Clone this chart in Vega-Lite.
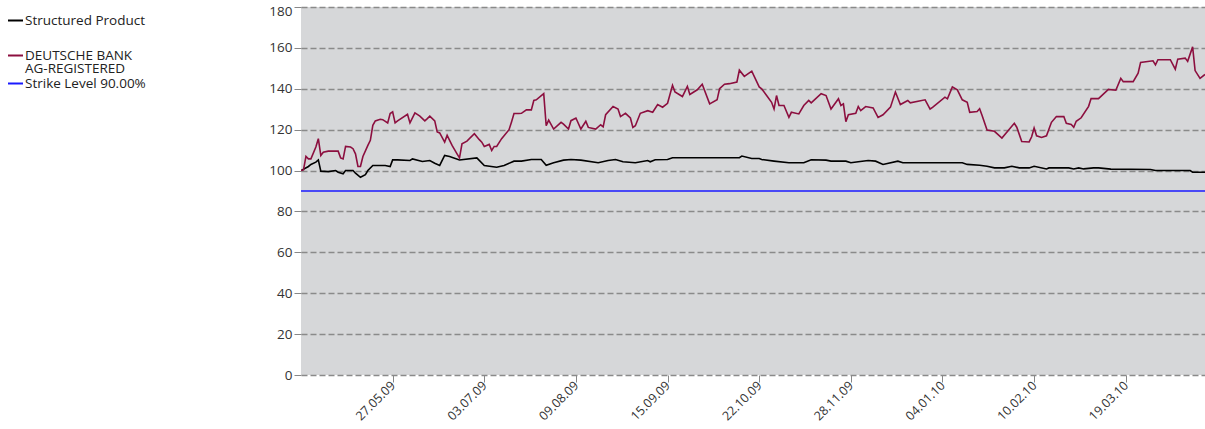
{
  "$schema": "https://vega.github.io/schema/vega-lite/v6.json",
  "width": 904,
  "height": 368,
  "autosize": {"type": "none"},
  "padding": {"left": 301, "top": 7, "right": 0, "bottom": 54},
  "background": "white",
  "config": {
    "view": {"fill": "#d6d7d9", "stroke": null},
    "font": "Open Sans"
  },
  "data": {
    "values": [
      {"date": "2009-04-20", "series": "Strike Level 90.00%", "value": 90},
      {"date": "2010-04-20", "series": "Strike Level 90.00%", "value": 90},

      {"date": "2009-04-20", "series": "Structured Product", "value": 100},
      {"date": "2009-04-23", "series": "Structured Product", "value": 102},
      {"date": "2009-04-24", "series": "Structured Product", "value": 103},
      {"date": "2009-04-26", "series": "Structured Product", "value": 104.1},
      {"date": "2009-04-27", "series": "Structured Product", "value": 105.2},
      {"date": "2009-04-28", "series": "Structured Product", "value": 99.7},
      {"date": "2009-05-01", "series": "Structured Product", "value": 99.5},
      {"date": "2009-05-04", "series": "Structured Product", "value": 100},
      {"date": "2009-05-05", "series": "Structured Product", "value": 99.2},
      {"date": "2009-05-07", "series": "Structured Product", "value": 98.4},
      {"date": "2009-05-08", "series": "Structured Product", "value": 100},
      {"date": "2009-05-11", "series": "Structured Product", "value": 100},
      {"date": "2009-05-12", "series": "Structured Product", "value": 98.7},
      {"date": "2009-05-14", "series": "Structured Product", "value": 96.7},
      {"date": "2009-05-16", "series": "Structured Product", "value": 98},
      {"date": "2009-05-17", "series": "Structured Product", "value": 100},
      {"date": "2009-05-19", "series": "Structured Product", "value": 102.5},
      {"date": "2009-05-24", "series": "Structured Product", "value": 102.5},
      {"date": "2009-05-26", "series": "Structured Product", "value": 102},
      {"date": "2009-05-27", "series": "Structured Product", "value": 105.2},
      {"date": "2009-05-29", "series": "Structured Product", "value": 105.2},
      {"date": "2009-06-03", "series": "Structured Product", "value": 104.9},
      {"date": "2009-06-04", "series": "Structured Product", "value": 105.7},
      {"date": "2009-06-08", "series": "Structured Product", "value": 104.4},
      {"date": "2009-06-11", "series": "Structured Product", "value": 104.9},
      {"date": "2009-06-13", "series": "Structured Product", "value": 103.6},
      {"date": "2009-06-15", "series": "Structured Product", "value": 102.5},
      {"date": "2009-06-17", "series": "Structured Product", "value": 107.4},
      {"date": "2009-06-19", "series": "Structured Product", "value": 106.9},
      {"date": "2009-06-23", "series": "Structured Product", "value": 105.2},
      {"date": "2009-06-30", "series": "Structured Product", "value": 106.2},
      {"date": "2009-07-03", "series": "Structured Product", "value": 102.5},
      {"date": "2009-07-08", "series": "Structured Product", "value": 101.6},
      {"date": "2009-07-11", "series": "Structured Product", "value": 102.5},
      {"date": "2009-07-15", "series": "Structured Product", "value": 104.6},
      {"date": "2009-07-18", "series": "Structured Product", "value": 104.6},
      {"date": "2009-07-22", "series": "Structured Product", "value": 105.4},
      {"date": "2009-07-26", "series": "Structured Product", "value": 105.4},
      {"date": "2009-07-28", "series": "Structured Product", "value": 102.6},
      {"date": "2009-07-31", "series": "Structured Product", "value": 103.8},
      {"date": "2009-08-04", "series": "Structured Product", "value": 105.1},
      {"date": "2009-08-07", "series": "Structured Product", "value": 105.4},
      {"date": "2009-08-11", "series": "Structured Product", "value": 105.1},
      {"date": "2009-08-18", "series": "Structured Product", "value": 103.8},
      {"date": "2009-08-22", "series": "Structured Product", "value": 104.9},
      {"date": "2009-08-25", "series": "Structured Product", "value": 105.4},
      {"date": "2009-08-28", "series": "Structured Product", "value": 104.3},
      {"date": "2009-09-02", "series": "Structured Product", "value": 103.8},
      {"date": "2009-09-07", "series": "Structured Product", "value": 104.9},
      {"date": "2009-09-08", "series": "Structured Product", "value": 104.3},
      {"date": "2009-09-10", "series": "Structured Product", "value": 105.3},
      {"date": "2009-09-15", "series": "Structured Product", "value": 105.4},
      {"date": "2009-09-17", "series": "Structured Product", "value": 106.3},
      {"date": "2009-10-14", "series": "Structured Product", "value": 106.3},
      {"date": "2009-10-15", "series": "Structured Product", "value": 107.1},
      {"date": "2009-10-19", "series": "Structured Product", "value": 105.9},
      {"date": "2009-10-22", "series": "Structured Product", "value": 105.9},
      {"date": "2009-10-23", "series": "Structured Product", "value": 105.4},
      {"date": "2009-10-28", "series": "Structured Product", "value": 104.6},
      {"date": "2009-11-03", "series": "Structured Product", "value": 103.8},
      {"date": "2009-11-09", "series": "Structured Product", "value": 103.8},
      {"date": "2009-11-12", "series": "Structured Product", "value": 105.3},
      {"date": "2009-11-18", "series": "Structured Product", "value": 105.1},
      {"date": "2009-11-20", "series": "Structured Product", "value": 104.6},
      {"date": "2009-11-26", "series": "Structured Product", "value": 104.6},
      {"date": "2009-11-28", "series": "Structured Product", "value": 103.8},
      {"date": "2009-12-01", "series": "Structured Product", "value": 104.3},
      {"date": "2009-12-05", "series": "Structured Product", "value": 104.9},
      {"date": "2009-12-08", "series": "Structured Product", "value": 104.6},
      {"date": "2009-12-11", "series": "Structured Product", "value": 103},
      {"date": "2009-12-17", "series": "Structured Product", "value": 104.6},
      {"date": "2009-12-19", "series": "Structured Product", "value": 103.8},
      {"date": "2010-01-12", "series": "Structured Product", "value": 103.8},
      {"date": "2010-01-14", "series": "Structured Product", "value": 103},
      {"date": "2010-01-19", "series": "Structured Product", "value": 102.6},
      {"date": "2010-01-22", "series": "Structured Product", "value": 102.1},
      {"date": "2010-01-25", "series": "Structured Product", "value": 101.3},
      {"date": "2010-01-29", "series": "Structured Product", "value": 101.3},
      {"date": "2010-02-01", "series": "Structured Product", "value": 102.1},
      {"date": "2010-02-04", "series": "Structured Product", "value": 101.3},
      {"date": "2010-02-08", "series": "Structured Product", "value": 101.3},
      {"date": "2010-02-10", "series": "Structured Product", "value": 102.1},
      {"date": "2010-02-15", "series": "Structured Product", "value": 100.8},
      {"date": "2010-02-16", "series": "Structured Product", "value": 101.3},
      {"date": "2010-02-24", "series": "Structured Product", "value": 101.3},
      {"date": "2010-02-26", "series": "Structured Product", "value": 100.8},
      {"date": "2010-02-28", "series": "Structured Product", "value": 101.3},
      {"date": "2010-03-02", "series": "Structured Product", "value": 100.8},
      {"date": "2010-03-06", "series": "Structured Product", "value": 101.3},
      {"date": "2010-03-08", "series": "Structured Product", "value": 101.3},
      {"date": "2010-03-13", "series": "Structured Product", "value": 100.7},
      {"date": "2010-03-29", "series": "Structured Product", "value": 100.5},
      {"date": "2010-03-31", "series": "Structured Product", "value": 100},
      {"date": "2010-04-14", "series": "Structured Product", "value": 100},
      {"date": "2010-04-15", "series": "Structured Product", "value": 99.2},
      {"date": "2010-04-20", "series": "Structured Product", "value": 99.2},

      {"date": "2009-04-20", "series": "DEUTSCHE BANK AG-REGISTERED", "value": 100},
      {"date": "2009-04-21", "series": "DEUTSCHE BANK AG-REGISTERED", "value": 100.3},
      {"date": "2009-04-22", "series": "DEUTSCHE BANK AG-REGISTERED", "value": 106.9},
      {"date": "2009-04-23", "series": "DEUTSCHE BANK AG-REGISTERED", "value": 105.7},
      {"date": "2009-04-24", "series": "DEUTSCHE BANK AG-REGISTERED", "value": 105.7},
      {"date": "2009-04-26", "series": "DEUTSCHE BANK AG-REGISTERED", "value": 111.5},
      {"date": "2009-04-27", "series": "DEUTSCHE BANK AG-REGISTERED", "value": 115.6},
      {"date": "2009-04-28", "series": "DEUTSCHE BANK AG-REGISTERED", "value": 107.4},
      {"date": "2009-04-29", "series": "DEUTSCHE BANK AG-REGISTERED", "value": 109},
      {"date": "2009-05-01", "series": "DEUTSCHE BANK AG-REGISTERED", "value": 109.5},
      {"date": "2009-05-05", "series": "DEUTSCHE BANK AG-REGISTERED", "value": 109.5},
      {"date": "2009-05-06", "series": "DEUTSCHE BANK AG-REGISTERED", "value": 106.2},
      {"date": "2009-05-07", "series": "DEUTSCHE BANK AG-REGISTERED", "value": 105.7},
      {"date": "2009-05-08", "series": "DEUTSCHE BANK AG-REGISTERED", "value": 111.8},
      {"date": "2009-05-10", "series": "DEUTSCHE BANK AG-REGISTERED", "value": 111.5},
      {"date": "2009-05-11", "series": "DEUTSCHE BANK AG-REGISTERED", "value": 110.7},
      {"date": "2009-05-12", "series": "DEUTSCHE BANK AG-REGISTERED", "value": 108.2},
      {"date": "2009-05-13", "series": "DEUTSCHE BANK AG-REGISTERED", "value": 102},
      {"date": "2009-05-14", "series": "DEUTSCHE BANK AG-REGISTERED", "value": 102},
      {"date": "2009-05-15", "series": "DEUTSCHE BANK AG-REGISTERED", "value": 106.9},
      {"date": "2009-05-17", "series": "DEUTSCHE BANK AG-REGISTERED", "value": 112.3},
      {"date": "2009-05-18", "series": "DEUTSCHE BANK AG-REGISTERED", "value": 114.8},
      {"date": "2009-05-19", "series": "DEUTSCHE BANK AG-REGISTERED", "value": 122.1},
      {"date": "2009-05-20", "series": "DEUTSCHE BANK AG-REGISTERED", "value": 124.3},
      {"date": "2009-05-22", "series": "DEUTSCHE BANK AG-REGISTERED", "value": 125.1},
      {"date": "2009-05-23", "series": "DEUTSCHE BANK AG-REGISTERED", "value": 124.9},
      {"date": "2009-05-25", "series": "DEUTSCHE BANK AG-REGISTERED", "value": 123.3},
      {"date": "2009-05-26", "series": "DEUTSCHE BANK AG-REGISTERED", "value": 127.9},
      {"date": "2009-05-27", "series": "DEUTSCHE BANK AG-REGISTERED", "value": 128.7},
      {"date": "2009-05-28", "series": "DEUTSCHE BANK AG-REGISTERED", "value": 123.3},
      {"date": "2009-05-29", "series": "DEUTSCHE BANK AG-REGISTERED", "value": 124.3},
      {"date": "2009-06-02", "series": "DEUTSCHE BANK AG-REGISTERED", "value": 127.5},
      {"date": "2009-06-03", "series": "DEUTSCHE BANK AG-REGISTERED", "value": 123.3},
      {"date": "2009-06-05", "series": "DEUTSCHE BANK AG-REGISTERED", "value": 128.2},
      {"date": "2009-06-07", "series": "DEUTSCHE BANK AG-REGISTERED", "value": 126.6},
      {"date": "2009-06-09", "series": "DEUTSCHE BANK AG-REGISTERED", "value": 124.3},
      {"date": "2009-06-10", "series": "DEUTSCHE BANK AG-REGISTERED", "value": 125.4},
      {"date": "2009-06-11", "series": "DEUTSCHE BANK AG-REGISTERED", "value": 126.6},
      {"date": "2009-06-13", "series": "DEUTSCHE BANK AG-REGISTERED", "value": 124.3},
      {"date": "2009-06-14", "series": "DEUTSCHE BANK AG-REGISTERED", "value": 118.9},
      {"date": "2009-06-15", "series": "DEUTSCHE BANK AG-REGISTERED", "value": 118.4},
      {"date": "2009-06-17", "series": "DEUTSCHE BANK AG-REGISTERED", "value": 113.9},
      {"date": "2009-06-18", "series": "DEUTSCHE BANK AG-REGISTERED", "value": 117.2},
      {"date": "2009-06-20", "series": "DEUTSCHE BANK AG-REGISTERED", "value": 112.3},
      {"date": "2009-06-22", "series": "DEUTSCHE BANK AG-REGISTERED", "value": 108.2},
      {"date": "2009-06-23", "series": "DEUTSCHE BANK AG-REGISTERED", "value": 106.2},
      {"date": "2009-06-24", "series": "DEUTSCHE BANK AG-REGISTERED", "value": 113.1},
      {"date": "2009-06-26", "series": "DEUTSCHE BANK AG-REGISTERED", "value": 114.4},
      {"date": "2009-06-29", "series": "DEUTSCHE BANK AG-REGISTERED", "value": 118},
      {"date": "2009-07-01", "series": "DEUTSCHE BANK AG-REGISTERED", "value": 115.1},
      {"date": "2009-07-02", "series": "DEUTSCHE BANK AG-REGISTERED", "value": 113.9},
      {"date": "2009-07-03", "series": "DEUTSCHE BANK AG-REGISTERED", "value": 111.8},
      {"date": "2009-07-05", "series": "DEUTSCHE BANK AG-REGISTERED", "value": 112.8},
      {"date": "2009-07-06", "series": "DEUTSCHE BANK AG-REGISTERED", "value": 109.8},
      {"date": "2009-07-07", "series": "DEUTSCHE BANK AG-REGISTERED", "value": 111.8},
      {"date": "2009-07-08", "series": "DEUTSCHE BANK AG-REGISTERED", "value": 111.8},
      {"date": "2009-07-10", "series": "DEUTSCHE BANK AG-REGISTERED", "value": 115.6},
      {"date": "2009-07-13", "series": "DEUTSCHE BANK AG-REGISTERED", "value": 120},
      {"date": "2009-07-14", "series": "DEUTSCHE BANK AG-REGISTERED", "value": 123.8},
      {"date": "2009-07-15", "series": "DEUTSCHE BANK AG-REGISTERED", "value": 127.9},
      {"date": "2009-07-17", "series": "DEUTSCHE BANK AG-REGISTERED", "value": 127.9},
      {"date": "2009-07-18", "series": "DEUTSCHE BANK AG-REGISTERED", "value": 128},
      {"date": "2009-07-20", "series": "DEUTSCHE BANK AG-REGISTERED", "value": 129.7},
      {"date": "2009-07-22", "series": "DEUTSCHE BANK AG-REGISTERED", "value": 129.7},
      {"date": "2009-07-23", "series": "DEUTSCHE BANK AG-REGISTERED", "value": 134.3},
      {"date": "2009-07-24", "series": "DEUTSCHE BANK AG-REGISTERED", "value": 134.6},
      {"date": "2009-07-27", "series": "DEUTSCHE BANK AG-REGISTERED", "value": 137.6},
      {"date": "2009-07-28", "series": "DEUTSCHE BANK AG-REGISTERED", "value": 121.9},
      {"date": "2009-07-29", "series": "DEUTSCHE BANK AG-REGISTERED", "value": 124.7},
      {"date": "2009-07-31", "series": "DEUTSCHE BANK AG-REGISTERED", "value": 120.3},
      {"date": "2009-08-03", "series": "DEUTSCHE BANK AG-REGISTERED", "value": 123.6},
      {"date": "2009-08-04", "series": "DEUTSCHE BANK AG-REGISTERED", "value": 122.7},
      {"date": "2009-08-06", "series": "DEUTSCHE BANK AG-REGISTERED", "value": 120.3},
      {"date": "2009-08-07", "series": "DEUTSCHE BANK AG-REGISTERED", "value": 124.4},
      {"date": "2009-08-09", "series": "DEUTSCHE BANK AG-REGISTERED", "value": 125.7},
      {"date": "2009-08-11", "series": "DEUTSCHE BANK AG-REGISTERED", "value": 120.3},
      {"date": "2009-08-13", "series": "DEUTSCHE BANK AG-REGISTERED", "value": 124.1},
      {"date": "2009-08-14", "series": "DEUTSCHE BANK AG-REGISTERED", "value": 121.1},
      {"date": "2009-08-17", "series": "DEUTSCHE BANK AG-REGISTERED", "value": 120.3},
      {"date": "2009-08-19", "series": "DEUTSCHE BANK AG-REGISTERED", "value": 122.4},
      {"date": "2009-08-20", "series": "DEUTSCHE BANK AG-REGISTERED", "value": 121.4},
      {"date": "2009-08-21", "series": "DEUTSCHE BANK AG-REGISTERED", "value": 127.3},
      {"date": "2009-08-24", "series": "DEUTSCHE BANK AG-REGISTERED", "value": 131.3},
      {"date": "2009-08-26", "series": "DEUTSCHE BANK AG-REGISTERED", "value": 130.1},
      {"date": "2009-08-27", "series": "DEUTSCHE BANK AG-REGISTERED", "value": 126.4},
      {"date": "2009-08-29", "series": "DEUTSCHE BANK AG-REGISTERED", "value": 128},
      {"date": "2009-08-31", "series": "DEUTSCHE BANK AG-REGISTERED", "value": 125.7},
      {"date": "2009-09-01", "series": "DEUTSCHE BANK AG-REGISTERED", "value": 121.1},
      {"date": "2009-09-02", "series": "DEUTSCHE BANK AG-REGISTERED", "value": 121.9},
      {"date": "2009-09-04", "series": "DEUTSCHE BANK AG-REGISTERED", "value": 128},
      {"date": "2009-09-07", "series": "DEUTSCHE BANK AG-REGISTERED", "value": 129.3},
      {"date": "2009-09-09", "series": "DEUTSCHE BANK AG-REGISTERED", "value": 128.5},
      {"date": "2009-09-11", "series": "DEUTSCHE BANK AG-REGISTERED", "value": 132.3},
      {"date": "2009-09-13", "series": "DEUTSCHE BANK AG-REGISTERED", "value": 131},
      {"date": "2009-09-15", "series": "DEUTSCHE BANK AG-REGISTERED", "value": 132.9},
      {"date": "2009-09-17", "series": "DEUTSCHE BANK AG-REGISTERED", "value": 141.7},
      {"date": "2009-09-18", "series": "DEUTSCHE BANK AG-REGISTERED", "value": 138.4},
      {"date": "2009-09-21", "series": "DEUTSCHE BANK AG-REGISTERED", "value": 136.2},
      {"date": "2009-09-23", "series": "DEUTSCHE BANK AG-REGISTERED", "value": 141.2},
      {"date": "2009-09-24", "series": "DEUTSCHE BANK AG-REGISTERED", "value": 137.2},
      {"date": "2009-09-27", "series": "DEUTSCHE BANK AG-REGISTERED", "value": 139.5},
      {"date": "2009-09-29", "series": "DEUTSCHE BANK AG-REGISTERED", "value": 142.2},
      {"date": "2009-10-02", "series": "DEUTSCHE BANK AG-REGISTERED", "value": 132.6},
      {"date": "2009-10-05", "series": "DEUTSCHE BANK AG-REGISTERED", "value": 134.6},
      {"date": "2009-10-06", "series": "DEUTSCHE BANK AG-REGISTERED", "value": 140},
      {"date": "2009-10-08", "series": "DEUTSCHE BANK AG-REGISTERED", "value": 142.2},
      {"date": "2009-10-10", "series": "DEUTSCHE BANK AG-REGISTERED", "value": 142.5},
      {"date": "2009-10-13", "series": "DEUTSCHE BANK AG-REGISTERED", "value": 143.3},
      {"date": "2009-10-14", "series": "DEUTSCHE BANK AG-REGISTERED", "value": 149.1},
      {"date": "2009-10-16", "series": "DEUTSCHE BANK AG-REGISTERED", "value": 146.1},
      {"date": "2009-10-19", "series": "DEUTSCHE BANK AG-REGISTERED", "value": 148.6},
      {"date": "2009-10-22", "series": "DEUTSCHE BANK AG-REGISTERED", "value": 140.9},
      {"date": "2009-10-23", "series": "DEUTSCHE BANK AG-REGISTERED", "value": 140},
      {"date": "2009-10-25", "series": "DEUTSCHE BANK AG-REGISTERED", "value": 136.7},
      {"date": "2009-10-27", "series": "DEUTSCHE BANK AG-REGISTERED", "value": 133.4},
      {"date": "2009-10-28", "series": "DEUTSCHE BANK AG-REGISTERED", "value": 130.1},
      {"date": "2009-10-29", "series": "DEUTSCHE BANK AG-REGISTERED", "value": 136.7},
      {"date": "2009-10-30", "series": "DEUTSCHE BANK AG-REGISTERED", "value": 131.8},
      {"date": "2009-11-01", "series": "DEUTSCHE BANK AG-REGISTERED", "value": 131.8},
      {"date": "2009-11-03", "series": "DEUTSCHE BANK AG-REGISTERED", "value": 126},
      {"date": "2009-11-04", "series": "DEUTSCHE BANK AG-REGISTERED", "value": 128.5},
      {"date": "2009-11-07", "series": "DEUTSCHE BANK AG-REGISTERED", "value": 127.7},
      {"date": "2009-11-09", "series": "DEUTSCHE BANK AG-REGISTERED", "value": 131.8},
      {"date": "2009-11-11", "series": "DEUTSCHE BANK AG-REGISTERED", "value": 134.3},
      {"date": "2009-11-12", "series": "DEUTSCHE BANK AG-REGISTERED", "value": 133.1},
      {"date": "2009-11-16", "series": "DEUTSCHE BANK AG-REGISTERED", "value": 137.6},
      {"date": "2009-11-18", "series": "DEUTSCHE BANK AG-REGISTERED", "value": 136.7},
      {"date": "2009-11-20", "series": "DEUTSCHE BANK AG-REGISTERED", "value": 130.1},
      {"date": "2009-11-23", "series": "DEUTSCHE BANK AG-REGISTERED", "value": 135.1},
      {"date": "2009-11-24", "series": "DEUTSCHE BANK AG-REGISTERED", "value": 131.8},
      {"date": "2009-11-25", "series": "DEUTSCHE BANK AG-REGISTERED", "value": 132.6},
      {"date": "2009-11-26", "series": "DEUTSCHE BANK AG-REGISTERED", "value": 123.9},
      {"date": "2009-11-27", "series": "DEUTSCHE BANK AG-REGISTERED", "value": 127.3},
      {"date": "2009-11-30", "series": "DEUTSCHE BANK AG-REGISTERED", "value": 128},
      {"date": "2009-12-01", "series": "DEUTSCHE BANK AG-REGISTERED", "value": 131.3},
      {"date": "2009-12-02", "series": "DEUTSCHE BANK AG-REGISTERED", "value": 129.3},
      {"date": "2009-12-04", "series": "DEUTSCHE BANK AG-REGISTERED", "value": 131.3},
      {"date": "2009-12-07", "series": "DEUTSCHE BANK AG-REGISTERED", "value": 130.6},
      {"date": "2009-12-09", "series": "DEUTSCHE BANK AG-REGISTERED", "value": 126},
      {"date": "2009-12-11", "series": "DEUTSCHE BANK AG-REGISTERED", "value": 127.3},
      {"date": "2009-12-14", "series": "DEUTSCHE BANK AG-REGISTERED", "value": 131},
      {"date": "2009-12-16", "series": "DEUTSCHE BANK AG-REGISTERED", "value": 138.4},
      {"date": "2009-12-18", "series": "DEUTSCHE BANK AG-REGISTERED", "value": 132.3},
      {"date": "2009-12-21", "series": "DEUTSCHE BANK AG-REGISTERED", "value": 134.3},
      {"date": "2009-12-22", "series": "DEUTSCHE BANK AG-REGISTERED", "value": 133.1},
      {"date": "2009-12-28", "series": "DEUTSCHE BANK AG-REGISTERED", "value": 134.6},
      {"date": "2009-12-30", "series": "DEUTSCHE BANK AG-REGISTERED", "value": 130.1},
      {"date": "2009-12-31", "series": "DEUTSCHE BANK AG-REGISTERED", "value": 130.9},
      {"date": "2010-01-05", "series": "DEUTSCHE BANK AG-REGISTERED", "value": 135.9},
      {"date": "2010-01-06", "series": "DEUTSCHE BANK AG-REGISTERED", "value": 135.1},
      {"date": "2010-01-08", "series": "DEUTSCHE BANK AG-REGISTERED", "value": 140.9},
      {"date": "2010-01-10", "series": "DEUTSCHE BANK AG-REGISTERED", "value": 139.5},
      {"date": "2010-01-12", "series": "DEUTSCHE BANK AG-REGISTERED", "value": 134.6},
      {"date": "2010-01-14", "series": "DEUTSCHE BANK AG-REGISTERED", "value": 133.4},
      {"date": "2010-01-15", "series": "DEUTSCHE BANK AG-REGISTERED", "value": 128.5},
      {"date": "2010-01-18", "series": "DEUTSCHE BANK AG-REGISTERED", "value": 128.9},
      {"date": "2010-01-19", "series": "DEUTSCHE BANK AG-REGISTERED", "value": 130.2},
      {"date": "2010-01-20", "series": "DEUTSCHE BANK AG-REGISTERED", "value": 126.9},
      {"date": "2010-01-22", "series": "DEUTSCHE BANK AG-REGISTERED", "value": 119.8},
      {"date": "2010-01-25", "series": "DEUTSCHE BANK AG-REGISTERED", "value": 119.2},
      {"date": "2010-01-28", "series": "DEUTSCHE BANK AG-REGISTERED", "value": 115.9},
      {"date": "2010-02-02", "series": "DEUTSCHE BANK AG-REGISTERED", "value": 123.1},
      {"date": "2010-02-03", "series": "DEUTSCHE BANK AG-REGISTERED", "value": 121.2},
      {"date": "2010-02-05", "series": "DEUTSCHE BANK AG-REGISTERED", "value": 114.2},
      {"date": "2010-02-08", "series": "DEUTSCHE BANK AG-REGISTERED", "value": 114},
      {"date": "2010-02-09", "series": "DEUTSCHE BANK AG-REGISTERED", "value": 116.5},
      {"date": "2010-02-10", "series": "DEUTSCHE BANK AG-REGISTERED", "value": 120.8},
      {"date": "2010-02-11", "series": "DEUTSCHE BANK AG-REGISTERED", "value": 117},
      {"date": "2010-02-13", "series": "DEUTSCHE BANK AG-REGISTERED", "value": 116.2},
      {"date": "2010-02-15", "series": "DEUTSCHE BANK AG-REGISTERED", "value": 117},
      {"date": "2010-02-17", "series": "DEUTSCHE BANK AG-REGISTERED", "value": 123.6},
      {"date": "2010-02-19", "series": "DEUTSCHE BANK AG-REGISTERED", "value": 126.4},
      {"date": "2010-02-22", "series": "DEUTSCHE BANK AG-REGISTERED", "value": 126.4},
      {"date": "2010-02-23", "series": "DEUTSCHE BANK AG-REGISTERED", "value": 123.1},
      {"date": "2010-02-25", "series": "DEUTSCHE BANK AG-REGISTERED", "value": 122.5},
      {"date": "2010-02-26", "series": "DEUTSCHE BANK AG-REGISTERED", "value": 121.2},
      {"date": "2010-02-27", "series": "DEUTSCHE BANK AG-REGISTERED", "value": 124.1},
      {"date": "2010-03-01", "series": "DEUTSCHE BANK AG-REGISTERED", "value": 125.8},
      {"date": "2010-03-04", "series": "DEUTSCHE BANK AG-REGISTERED", "value": 131.4},
      {"date": "2010-03-05", "series": "DEUTSCHE BANK AG-REGISTERED", "value": 135.2},
      {"date": "2010-03-08", "series": "DEUTSCHE BANK AG-REGISTERED", "value": 135.2},
      {"date": "2010-03-12", "series": "DEUTSCHE BANK AG-REGISTERED", "value": 139.7},
      {"date": "2010-03-15", "series": "DEUTSCHE BANK AG-REGISTERED", "value": 139.3},
      {"date": "2010-03-17", "series": "DEUTSCHE BANK AG-REGISTERED", "value": 145.1},
      {"date": "2010-03-18", "series": "DEUTSCHE BANK AG-REGISTERED", "value": 143.5},
      {"date": "2010-03-22", "series": "DEUTSCHE BANK AG-REGISTERED", "value": 143.5},
      {"date": "2010-03-24", "series": "DEUTSCHE BANK AG-REGISTERED", "value": 147.6},
      {"date": "2010-03-25", "series": "DEUTSCHE BANK AG-REGISTERED", "value": 152.9},
      {"date": "2010-03-30", "series": "DEUTSCHE BANK AG-REGISTERED", "value": 153.7},
      {"date": "2010-03-31", "series": "DEUTSCHE BANK AG-REGISTERED", "value": 151.7},
      {"date": "2010-04-01", "series": "DEUTSCHE BANK AG-REGISTERED", "value": 154.2},
      {"date": "2010-04-06", "series": "DEUTSCHE BANK AG-REGISTERED", "value": 154.2},
      {"date": "2010-04-08", "series": "DEUTSCHE BANK AG-REGISTERED", "value": 149.6},
      {"date": "2010-04-09", "series": "DEUTSCHE BANK AG-REGISTERED", "value": 154.5},
      {"date": "2010-04-12", "series": "DEUTSCHE BANK AG-REGISTERED", "value": 155},
      {"date": "2010-04-13", "series": "DEUTSCHE BANK AG-REGISTERED", "value": 153.4},
      {"date": "2010-04-15", "series": "DEUTSCHE BANK AG-REGISTERED", "value": 160.5},
      {"date": "2010-04-16", "series": "DEUTSCHE BANK AG-REGISTERED", "value": 148.9},
      {"date": "2010-04-18", "series": "DEUTSCHE BANK AG-REGISTERED", "value": 145.1},
      {"date": "2010-04-20", "series": "DEUTSCHE BANK AG-REGISTERED", "value": 147}
    ]
  },
  "encoding": {
    "x": {
      "field": "date",
      "type": "temporal",
      "scale": {
        "domain": [
          {"year": 2009, "month": 4, "date": 20, "utc": true},
          {"year": 2010, "month": 4, "date": 20, "utc": true}
        ]
      },
      "axis": {
        "title": null,
        "grid": false,
        "domain": false,
        "values": [
          {"year": 2009, "month": 5, "date": 27, "utc": true},
          {"year": 2009, "month": 7, "date": 3, "utc": true},
          {"year": 2009, "month": 8, "date": 9, "utc": true},
          {"year": 2009, "month": 9, "date": 15, "utc": true},
          {"year": 2009, "month": 10, "date": 22, "utc": true},
          {"year": 2009, "month": 11, "date": 28, "utc": true},
          {"year": 2010, "month": 1, "date": 4, "utc": true},
          {"year": 2010, "month": 2, "date": 10, "utc": true},
          {"year": 2010, "month": 3, "date": 19, "utc": true}
        ],
        "labelExpr": "utcFormat(datum.value, '%d.%m.%y')",
        "labelAngle": -45,
        "labelAlign": "right",
        "labelBaseline": "middle",
        "labelPadding": 1,
        "labelFontSize": 12.5,
        "labelColor": "#333333",
        "labelOverlap": false,
        "labelFlush": false,
        "tickColor": "#888888",
        "tickSize": 7,
        "tickWidth": 1
      }
    },
    "y": {
      "field": "value",
      "type": "quantitative",
      "scale": {"domain": [0, 180], "nice": false, "zero": true},
      "axis": {
        "title": null,
        "values": [0, 20, 40, 60, 80, 100, 120, 140, 160, 180],
        "grid": true,
        "gridColor": "#8a8a8a",
        "gridDash": [6, 3],
        "gridWidth": 1.5,
        "domain": false,
        "tickColor": "#888888",
        "tickSize": 7,
        "tickWidth": 1,
        "labelFontSize": 13.5,
        "labelColor": "#333333",
        "labelPadding": 2,
        "labelFlush": false,
        "labelOffset": {"condition": {"test": "datum.value == 180", "value": 4}, "value": 0}
      }
    }
  },
  "layer": [
    {
      "transform": [{"filter": "datum.series != 'Strike Level 90.00%'"}],
      "mark": {"type": "line", "strokeWidth": 1.6, "clip": true},
      "encoding": {
        "color": {
          "field": "series",
          "type": "nominal",
          "scale": {
            "domain": ["Structured Product", "DEUTSCHE BANK AG-REGISTERED"],
            "range": ["#000000", "#8c0f3f"]
          },
          "legend": {
            "title": null,
            "orient": "none",
            "legendX": -294,
            "legendY": 5,
            "symbolType": "stroke",
            "symbolSize": 225,
            "symbolStrokeWidth": 2,
            "labelFontSize": 13.5,
            "labelColor": "#222222",
            "labelOffset": 1,
            "rowPadding": 20,
            "labelLimit": 300,
            "labelExpr": "datum.label == 'DEUTSCHE BANK AG-REGISTERED' ? ['DEUTSCHE BANK', 'AG-REGISTERED'] : datum.label",
            "encode": {"labels": {"update": {"lineHeight": {"value": 13.5}}}}
          }
        }
      }
    },
    {
      "transform": [{"filter": "datum.series == 'Strike Level 90.00%'"}],
      "mark": {"type": "line", "strokeWidth": 1.6, "clip": true},
      "encoding": {
        "color": {
          "field": "series",
          "type": "nominal",
          "scale": {
            "domain": ["Strike Level 90.00%"],
            "range": ["#1a1aff"]
          },
          "legend": {
            "title": null,
            "orient": "none",
            "legendX": -294,
            "legendY": 68,
            "symbolType": "stroke",
            "symbolSize": 225,
            "symbolStrokeWidth": 2,
            "labelFontSize": 13.5,
            "labelColor": "#222222",
            "labelOffset": 1,
            "labelLimit": 300
          }
        }
      }
    }
  ],
  "resolve": {"scale": {"color": "independent"}}
}
